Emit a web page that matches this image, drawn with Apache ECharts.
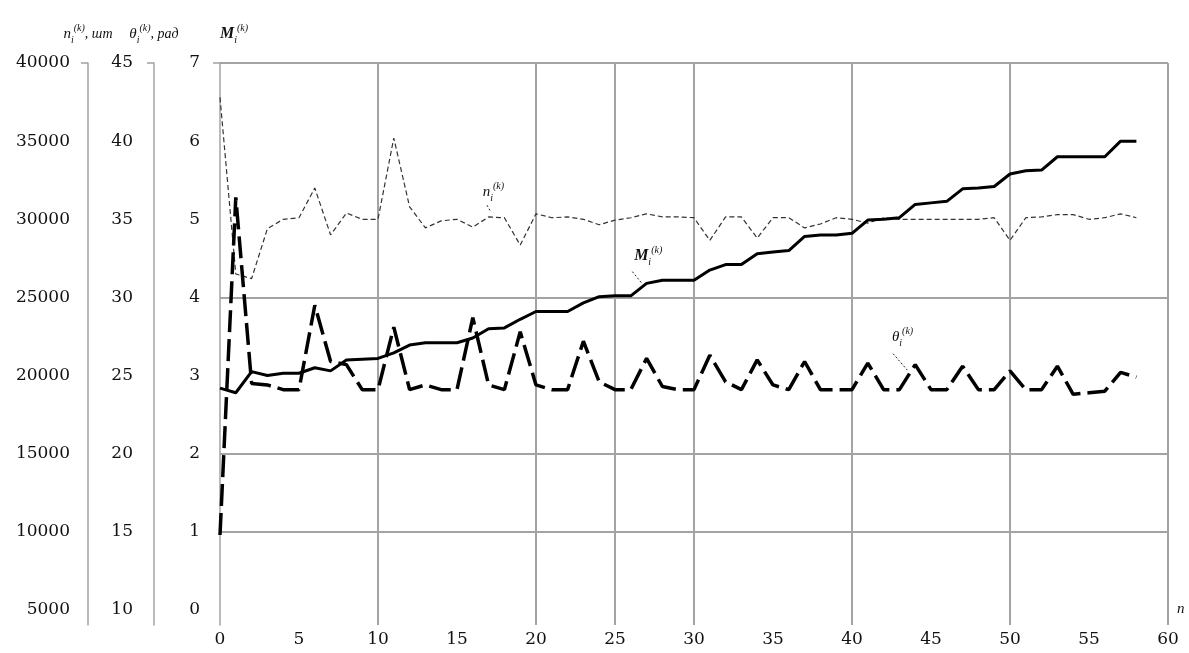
<!DOCTYPE html>
<html><head><meta charset="utf-8">
<script src="https://cdn.jsdelivr.net/npm/echarts@6/dist/echarts.min.js"></script>
<style>html,body{margin:0;padding:0;background:#fff}#c{width:1189px;height:653px}</style>
</head><body><div id="c"></div>
<script>
// ---------- data ----------
const iterations = [0,1,2,3,4,5,6,7,8,9,10,11,12,13,14,15,16,17,18,19,20,21,22,23,24,25,26,27,28,29,
  30,31,32,33,34,35,36,37,38,39,40,41,42,43,44,45,46,47,48,49,50,51,52,53,54,55,56,57,58];
const nValues = [37800,26500,26200,29400,30000,30100,32000,29000,30400,30000,30000,35200,30800,29450,29900,
  30000,29500,30150,30100,28350,30350,30100,30150,30000,29650,29950,30100,30350,30150,30150,
  30100,28650,30150,30150,28800,30100,30100,29450,29700,30100,30000,29750,30100,30000,30000,
  30000,30000,30000,30000,30100,28650,30100,30150,30300,30300,30000,30100,30350,30100];
const thetaValues = [14.8,36.4,24.5,24.4,24.1,24.1,29.5,25.9,25.7,24.1,24.1,28.1,24.1,24.4,24.1,
  24.1,28.7,24.4,24.1,27.8,24.4,24.1,24.1,27.2,24.6,24.1,24.1,26.1,24.3,24.1,
  24.1,26.3,24.6,24.1,26.0,24.4,24.1,25.9,24.1,24.1,24.1,25.8,24.1,24.1,25.7,
  24.1,24.1,25.6,24.1,24.1,25.3,24.1,24.1,25.6,23.8,23.9,24.0,25.2,24.9];
const mValues = [2.84,2.78,3.05,3.0,3.03,3.03,3.1,3.06,3.2,3.21,3.22,3.29,3.39,3.42,3.42,
  3.42,3.48,3.6,3.61,3.72,3.82,3.82,3.82,3.93,4.01,4.02,4.02,4.18,4.22,4.22,
  4.22,4.35,4.42,4.42,4.56,4.58,4.6,4.78,4.8,4.8,4.82,4.99,5.0,5.02,5.19,
  5.21,5.23,5.39,5.4,5.42,5.58,5.62,5.63,5.8,5.8,5.8,5.8,6.0,6.0];
const xTickLabels = [0,5,10,15,20,25,30,35,40,45,50,55,60];
const nTickLabels = [5000,10000,15000,20000,25000,30000,35000,40000];
const thetaTickLabels = [10,15,20,25,30,35,40,45];
const mTickLabels = [0,1,2,3,4,5,6,7];
const xGridValues = [10,20,25,30,40,50,60];
const mGridValues = [1,2,4,7];

// ---------- styling / layout ----------
const below = 0.192;           // axis room under zero, in M units
const nMin = nTickLabels[0] - below * 5000;
const thetaMin = thetaTickLabels[0] - below * 5;
const mMin = mTickLabels[0] - below;
const gridColor = '#a3a3a3';
const tickFont = {fontFamily: 'DejaVu Serif', fontSize: 17, color: '#111'};
const richStyles = {
  v: {fontFamily: 'Liberation Serif', fontStyle: 'italic', fontSize: 15, color: '#111', lineHeight: 22, verticalAlign: 'middle'},
  b: {fontFamily: 'Liberation Serif', fontStyle: 'italic', fontWeight: 'bold', fontSize: 16, color: '#111', lineHeight: 22, verticalAlign: 'middle'},
  sub: {fontFamily: 'Liberation Serif', fontStyle: 'italic', fontSize: 10, color: '#111', verticalAlign: 'bottom'},
  sup: {fontFamily: 'Liberation Serif', fontStyle: 'italic', fontSize: 10, color: '#111', verticalAlign: 'top'},
  u: {fontFamily: 'Liberation Serif', fontStyle: 'italic', fontSize: 14, color: '#111', verticalAlign: 'middle'}
};
function yAxisDef(offset, min, max, labels, name, margin, align) {
  return {
    type: 'value', position: 'left', offset: offset, min: min, max: max,
    axisLine: {show: true, onZero: false, lineStyle: {color: gridColor, width: 1.5}},
    axisTick: {show: true, customValues: [max], length: 7, lineStyle: {color: gridColor, width: 1.5}},
    splitLine: {show: false},
    axisLabel: Object.assign({customValues: labels, margin: margin, formatter: v => String(v)}, tickFont),
    name: name, nameLocation: 'end', nameGap: 18, nameMoveOverlap: false,
    nameTextStyle: {align: align, rich: richStyles}
  };
}
const pairs = vals => iterations.map((x, i) => [x, vals[i]]);
const labelPoint = (coord, text) => ({
  coord: coord, symbol: 'circle', symbolSize: 1, itemStyle: {color: 'rgba(0,0,0,0)'},
  label: {show: true, position: 'inside', formatter: text, rich: richStyles}
});
const leader = (a, b) => [{coord: a, lineStyle: {color: '#222', width: 1, type: [2, 2]}}, {coord: b}];

const option = {
  animation: false,
  backgroundColor: '#fff',
  grid: {left: 220, right: 21, top: 63, bottom: 28, containLabel: false},
  xAxis: {
    type: 'value', min: 0, max: 60, interval: 5,
    axisLine: {show: false, onZero: false}, axisTick: {show: false}, splitLine: {show: false},
    axisLabel: Object.assign({margin: 6, customValues: xTickLabels}, tickFont),
    name: 'n', nameLocation: 'end', nameGap: 9,
    nameTextStyle: {fontFamily: 'Liberation Serif', fontStyle: 'italic', fontSize: 15, color: '#111',
      verticalAlign: 'bottom', padding: [0, 0, 8, 0]}
  },
  yAxis: [
    yAxisDef(132, nMin, nTickLabels[nTickLabels.length - 1], nTickLabels,
      '{v|n}{sub|i}{sup|(k)}{u|, шт}', 18, 'center'),
    yAxisDef(66, thetaMin, thetaTickLabels[thetaTickLabels.length - 1], thetaTickLabels,
      '{v|θ}{sub|i}{sup|(k)}{u|, рад}', 21, 'center'),
    yAxisDef(0, mMin, mTickLabels[mTickLabels.length - 1], mTickLabels,
      '{b|M}{sub|i}{sup|(k)}', 20, 'left')
  ],
  series: [
    {
      name: 'n', type: 'line', yAxisIndex: 0, data: pairs(nValues), showSymbol: false, z: 3,
      lineStyle: {color: '#333', width: 1.2, type: [5, 3]},
      markPoint: {silent: true, data: [labelPoint([17.3, 31750], '{v|n}{sub|i}{sup|(k)}')]},
      markLine: {silent: true, z: 1, symbol: ['none', 'none'], label: {show: false},
        data: [leader([16.9, 30900], [17.15, 30450])]}
    },
    {
      name: 'theta', type: 'line', yAxisIndex: 1, data: pairs(thetaValues), showSymbol: false, z: 4,
      lineStyle: {color: '#000', width: 3.5, type: [22, 7]},
      markPoint: {silent: true, data: [labelPoint([43.2, 27.47], '{v|θ}{sub|i}{sup|(k)}')]},
      markLine: {silent: true, z: 1, symbol: ['none', 'none'], label: {show: false},
        data: [leader([42.6, 26.4], [43.5, 25.35])]}
    },
    {
      name: 'M', type: 'line', yAxisIndex: 2, data: pairs(mValues), showSymbol: false, z: 5,
      lineStyle: {color: '#000', width: 3},
      markPoint: {silent: true, data: [labelPoint([27.1, 4.53], '{b|M}{sub|i}{sup|(k)}')]},
      markLine: {silent: true, z: 1, symbol: ['none', 'none'], label: {show: false},
        lineStyle: {color: gridColor, width: 2, type: 'solid'},
        data: xGridValues.map(v => ({xAxis: v}))
          .concat(mGridValues.map(v => ({yAxis: v})))
          .concat([leader([26.1, 4.33], [26.7, 4.18])])}
    }
  ]
};
const chart = echarts.init(document.getElementById('c'), null, {renderer: 'canvas'});
chart.setOption(option);
</script></body></html>
